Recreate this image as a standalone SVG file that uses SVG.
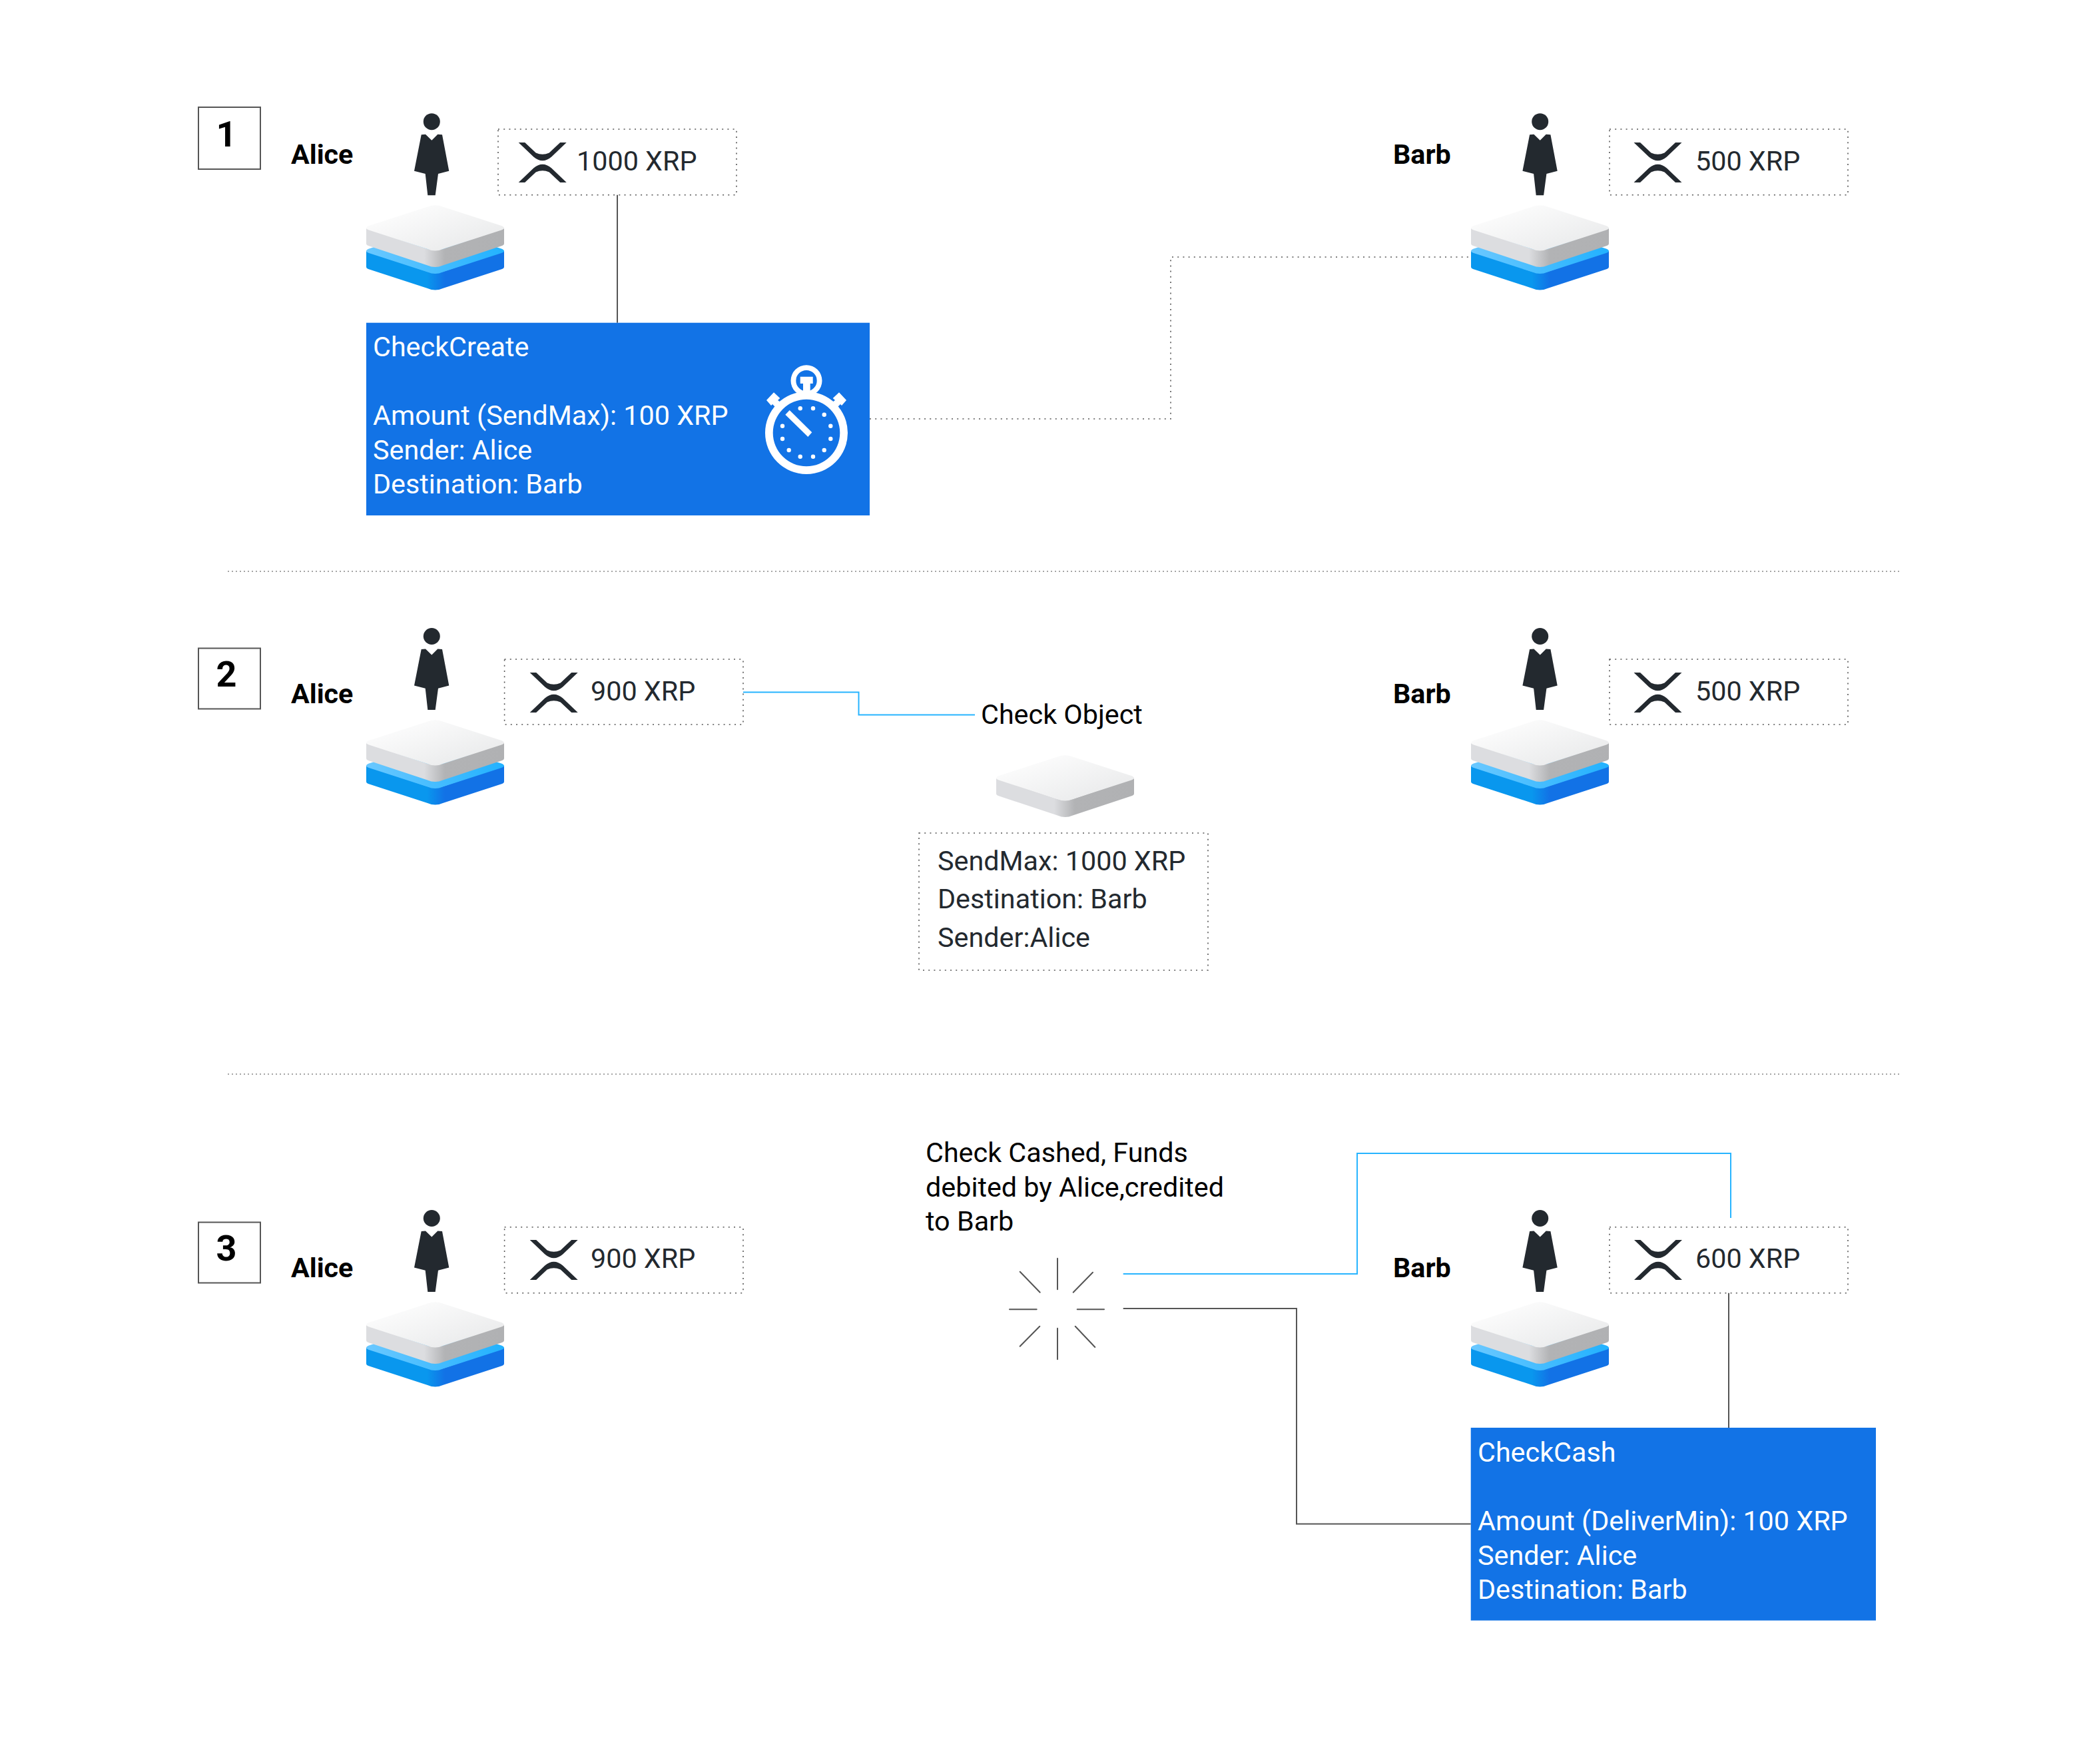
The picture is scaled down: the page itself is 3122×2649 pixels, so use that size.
<svg xmlns="http://www.w3.org/2000/svg" xmlns:xlink="http://www.w3.org/1999/xlink" width="3122" height="2649" viewBox="0 0 3122 2649">
<style>
text{font-family:Roboto,"Liberation Sans",sans-serif;font-size:41.3px}
.b{font-weight:700;fill:#000}
.num{font-weight:700;fill:#000;font-size:54px;text-anchor:middle}
.v{fill:#23292f}
.k{fill:#000}
.w{fill:#fff}
.dot{fill:none;stroke:#555;stroke-width:1.6;stroke-dasharray:2 6.2}
.sec{fill:none;stroke:#888;stroke-width:1.4;stroke-dasharray:2 4}
.frame{fill:#fff;stroke:#555;stroke-width:2}
.gl{fill:none;stroke:#555;stroke-width:2}
.bl{fill:none;stroke:#27b4ff;stroke-width:2}
.ray{stroke:#555;stroke-width:2;stroke-linecap:round}
.blue{fill:#1273e6}
</style>
<defs>
<linearGradient id="gTop" x1="0" y1="0" x2="1" y2="1"><stop offset="0.05" stop-color="#ffffff"/><stop offset="1" stop-color="#e6e7e8"/></linearGradient>
<linearGradient id="gSide" x1="0" y1="0" x2="1" y2="0"><stop offset="0.42" stop-color="#dcdde0"/><stop offset="0.57" stop-color="#b2b3b5"/><stop offset="1" stop-color="#b0b1b3"/></linearGradient>
<linearGradient id="gBand" x1="0" y1="0" x2="1" y2="0"><stop offset="0" stop-color="#6ac8ff"/><stop offset="1" stop-color="#22b2ff"/></linearGradient>
<linearGradient id="gBlue" x1="0" y1="0" x2="1" y2="0"><stop offset="0.44" stop-color="#0997ee"/><stop offset="0.57" stop-color="#1272e6"/><stop offset="1" stop-color="#1272e6"/></linearGradient>
<g id="slab">
<path fill="url(#gSide)" d="M0,35 L92,66 Q103.5,69 115,66 L207,35 V58 Q207,60 204,61 L115,90.5 Q103.5,95.5 92,90.5 L3,61 Q0,60 0,58 Z"/>
<path fill="url(#gTop)" d="M92,2.5 Q103.5,-2 115,2.5 L203,31 Q207,32.5 207,34.5 Q207,36 203,37.5 L115,66 Q103.5,71 92,66 L4,37.5 Q0,36 0,34.5 Q0,32.5 4,31 Z"/>
</g>
<g id="stack">
<path fill="url(#gBlue)" d="M0,69 L92,100 Q103.5,103.5 115,100 L207,69 V93 Q207,95 204,96 L115,125 Q103.5,130 92,125 L3,96 Q0,95 0,93 Z"/>
<path fill="url(#gBand)" d="M92,37 Q103.5,33.5 115,37 L203,65.5 Q207,67 207,69 Q207,70.5 203,72 L115,100.5 Q103.5,105.5 92,100.5 L4,72 Q0,70.5 0,69 Q0,67 4,65.5 Z"/>
<use href="#slab"/>
</g>
<g id="person" fill="#23292f">
<circle cx="0" cy="0" r="12.5"/>
<path d="M-15.6,19.6 L-9.3,19 L0,28 L9,19 L15.7,19.6 L26,74 L9.7,78.3 L5.4,110.6 H-6 L-9.6,78.3 L-26.3,74 Z"/>
</g>
<g id="xrp" fill="#23292f">
<path id="xrpU" d="M-36,-30 H-26.5 L-10,-14.5 Q0,-10 10,-14.5 L26.5,-30 H36 L13.5,-8.5 Q0,3 -13.5,-8.5 Z"/>
<use href="#xrpU" transform="scale(1,-1)"/>
</g>
</defs>
<rect width="3122" height="2649" fill="#fff"/>

<g id="connectors">
<path class="gl" d="M927,292.7 V484.7"/>
<path class="dot" d="M1306,629 H1758 V386 H2209"/>
<path class="sec" d="M342,858 H2855"/>
<path class="sec" d="M342,1613 H2855"/>
<path class="bl" d="M1116,1039.5 H1289.5 V1073.5 H1464"/>
<path class="bl" d="M1686.7,1913 H2038 V1732 H2599 V1829"/>
<path class="gl" d="M1686.7,1965 H1947 V2288.6 H2208.7"/>
<path class="gl" d="M2596,1941.7 V2144"/>
</g>

<g id="step1"><rect class="frame" x="298" y="161" width="93" height="93"/><text class="num" x="340" y="220">1</text></g>
<g id="step2"><rect class="frame" x="298" y="973.5" width="93" height="91"/><text class="num" x="340" y="1030.5">2</text></g>
<g id="step3"><rect class="frame" x="298" y="1835.5" width="93" height="91"/><text class="num" x="340" y="1893">3</text></g>

<g id="alice1"><text class="b" x="437" y="245.5">Alice</text><use href="#person" x="648.3" y="182.7"/><use href="#stack" x="550" y="308"/></g>
<g id="alice1-balance"><rect class="dot" x="748" y="194" width="358" height="98.7"/><use href="#xrp" x="814.7" y="244"/><text class="v" x="866" y="255.7">1000 XRP</text></g>
<g id="barb1"><text class="b" x="2092" y="245.5">Barb</text><use href="#person" x="2312.7" y="182.7"/><use href="#stack" x="2209" y="308"/></g>
<g id="barb1-balance"><rect class="dot" x="2417" y="194" width="358" height="98.7"/><use href="#xrp" x="2489.5" y="244"/><text class="v" x="2546" y="255.7">500 XRP</text></g>
<g id="checkcreate">
<rect class="blue" x="550" y="484.7" width="756" height="289.3"/>
<text class="w" x="560" y="534.5">CheckCreate</text>
<text class="w" x="560" y="638">Amount (SendMax): 100 XRP</text>
<text class="w" x="560" y="689.5">Sender: Alice</text>
<text class="w" x="560" y="741">Destination: Barb</text>
<g id="stopwatch" fill="#fff">
<path fill-rule="evenodd" d="M1149,650 a62,62 0 1,0 124,0 a62,62 0 1,0 -124,0 Z M1160.7,650 a50.3,50.3 0 1,1 100.6,0 a50.3,50.3 0 1,1 -100.6,0 Z"/>
<path fill-rule="evenodd" d="M1187.5,571.7 a23.5,23.5 0 1,0 47,0 a23.5,23.5 0 1,0 -47,0 Z M1195.3,571.7 a15.7,15.7 0 1,1 31.4,0 a15.7,15.7 0 1,1 -31.4,0 Z"/>
<path d="M1201.7,565.7 H1220.7 V576 H1216.7 V592 H1206 V576 H1201.7 Z"/>
<path d="M1151,601 L1162,589.3 L1171.3,598 L1168,601 L1172,604 L1164,611 L1160,607 L1158,609 Z"/>
<path d="M1271,601 L1260,589.3 L1250.7,598 L1254,601 L1250,604 L1258,611 L1262,607 L1264,609 Z"/>
<path d="M1179.3,622.7 L1185.7,616 L1219.3,649.3 L1213.3,656 Z"/>
<circle cx="1201.7" cy="613.3" r="3.2"/><circle cx="1221" cy="613.3" r="3.2"/><circle cx="1237.7" cy="622.7" r="3.2"/><circle cx="1247.3" cy="639.7" r="3.2"/><circle cx="1247.3" cy="659" r="3.2"/><circle cx="1237.7" cy="676" r="3.2"/><circle cx="1221" cy="685.7" r="3.2"/><circle cx="1201.7" cy="685.7" r="3.2"/><circle cx="1184.7" cy="676" r="3.2"/><circle cx="1175" cy="659" r="3.2"/><circle cx="1175" cy="639.7" r="3.2"/>
</g>
</g>

<g id="alice2"><text class="b" x="437" y="1055.5">Alice</text><use href="#person" x="648.3" y="955.5"/><use href="#stack" x="550" y="1081"/></g>
<g id="alice2-balance"><rect class="dot" x="757.6" y="990" width="358.4" height="98"/><use href="#xrp" x="831.7" y="1040"/><text class="v" x="887" y="1051.5">900 XRP</text></g>
<g id="barb2"><text class="b" x="2092" y="1055.5">Barb</text><use href="#person" x="2312.7" y="955.5"/><use href="#stack" x="2209" y="1081"/></g>
<g id="barb2-balance"><rect class="dot" x="2417" y="990" width="358" height="98"/><use href="#xrp" x="2489.5" y="1040"/><text class="v" x="2546" y="1051.5">500 XRP</text></g>
<g id="check-object">
<text class="k" x="1473" y="1087.3">Check Object</text>
<use href="#slab" x="1496" y="1134"/>
<rect class="dot" x="1380" y="1251" width="434" height="206"/>
<text class="v" x="1408" y="1307">SendMax: 1000 XRP</text>
<text class="v" x="1408" y="1364.3">Destination: Barb</text>
<text class="v" x="1408" y="1421.5">Sender:Alice</text>
</g>

<g id="alice3"><text class="b" x="437" y="1917.5">Alice</text><use href="#person" x="648.3" y="1829.5"/><use href="#stack" x="550" y="1955"/></g>
<g id="alice3-balance"><rect class="dot" x="757.6" y="1842.7" width="358.4" height="99"/><use href="#xrp" x="831.7" y="1892"/><text class="v" x="887" y="1903.5">900 XRP</text></g>
<g id="barb3"><text class="b" x="2092" y="1917.5">Barb</text><use href="#person" x="2312.7" y="1829.5"/><use href="#stack" x="2209" y="1955"/></g>
<g id="barb3-balance"><rect class="dot" x="2417" y="1842.7" width="358" height="99"/><use href="#xrp" x="2490" y="1892"/><text class="v" x="2546" y="1903.5">600 XRP</text></g>
<g id="cashed-note">
<text class="k" x="1390" y="1745">Check Cashed, Funds</text>
<text class="k" x="1390" y="1796.5">debited by Alice,credited</text>
<text class="k" x="1390" y="1848">to Barb</text>
</g>
<g id="burst" transform="translate(0,-1)">
<line class="ray" x1="1588" y1="1890.7" x2="1588" y2="1937.3"/><line class="ray" x1="1588" y1="1995.7" x2="1588" y2="2042.3"/>
<line class="ray" x1="1516" y1="1967.3" x2="1556.7" y2="1967.3"/><line class="ray" x1="1617.7" y1="1967.3" x2="1658" y2="1967.3"/>
<line class="ray" x1="1531.7" y1="1910.7" x2="1561.7" y2="1941.7"/><line class="ray" x1="1641" y1="1911.7" x2="1611.7" y2="1941.7"/>
<line class="ray" x1="1561.3" y1="1992.7" x2="1531.7" y2="2022.7"/><line class="ray" x1="1614.7" y1="1992.7" x2="1644.3" y2="2024"/>
</g>
<g id="checkcash">
<rect class="blue" x="2208.7" y="2144" width="608.3" height="289.5"/>
<text class="w" x="2219" y="2195">CheckCash</text>
<text class="w" x="2219" y="2297.5">Amount (DeliverMin): 100 XRP</text>
<text class="w" x="2219" y="2349.5">Sender: Alice</text>
<text class="w" x="2219" y="2401">Destination: Barb</text>
</g>
</svg>
